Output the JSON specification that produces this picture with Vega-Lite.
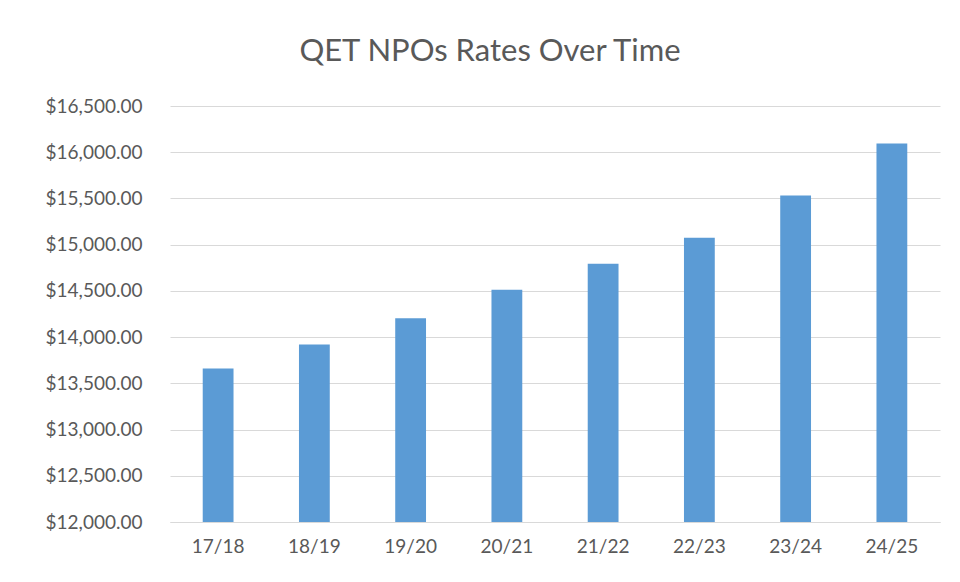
{
  "$schema": "https://vega.github.io/schema/vega-lite/v6.json",
  "width": 770,
  "height": 416,
  "autosize": "none",
  "padding": {"left": 170, "top": 106, "right": 20, "bottom": 60},
  "background": "white",
  "title": {
    "text": "QET NPOs Rates Over Time",
    "font": "Lato",
    "fontSize": 31,
    "fontWeight": "normal",
    "color": "#595959",
    "anchor": "middle",
    "frame": "group",
    "baseline": "alphabetic",
    "dx": -65,
    "offset": 5
  },
  "data": {
    "values": [
      {"year": "17/18", "rate": 13660},
      {"year": "18/19", "rate": 13921},
      {"year": "19/20", "rate": 14203},
      {"year": "20/21", "rate": 14511},
      {"year": "21/22", "rate": 14793},
      {"year": "22/23", "rate": 15076},
      {"year": "23/24", "rate": 15533},
      {"year": "24/25", "rate": 16095}
    ]
  },
  "mark": {"type": "bar", "color": "#5B9BD5", "clip": true},
  "encoding": {
    "x": {
      "field": "year",
      "type": "ordinal",
      "sort": null,
      "scale": {"paddingInner": 0.68, "paddingOuter": 0.34},
      "axis": {
        "title": null,
        "labelAngle": 0,
        "labelFont": "Lato",
        "labelFontSize": 19,
        "labelColor": "#595959",
        "labelPadding": 15,
        "ticks": false,
        "domainColor": "#d9d9d9",
        "domainWidth": 1
      }
    },
    "y": {
      "field": "rate",
      "type": "quantitative",
      "scale": {"domain": [12000, 16500], "zero": false, "nice": false},
      "axis": {
        "title": null,
        "values": [12000, 12500, 13000, 13500, 14000, 14500, 15000, 15500, 16000, 16500],
        "format": "$,.2f",
        "labelFont": "Lato",
        "labelFontSize": 19,
        "labelColor": "#595959",
        "labelPadding": 28,
        "ticks": false,
        "domain": false,
        "gridColor": "#d9d9d9",
        "gridWidth": 1
      }
    }
  },
  "config": {"view": {"stroke": null}}
}
